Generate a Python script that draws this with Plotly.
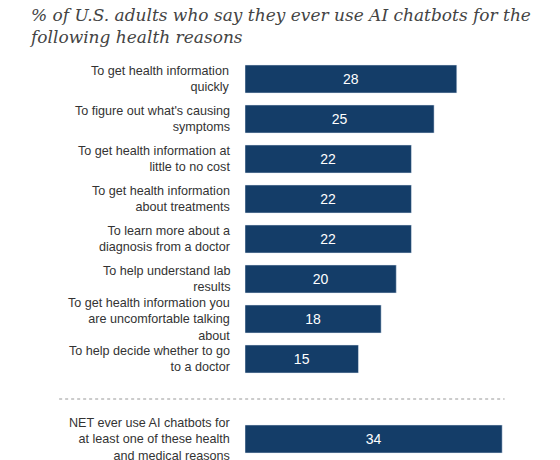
import plotly.graph_objects as go

labels = [
    "To get health information<br>quickly",
    "To figure out what's causing<br>symptoms",
    "To get health information at<br>little to no cost",
    "To get health information<br>about treatments",
    "To learn more about a<br>diagnosis from a doctor",
    "To help understand lab<br>results",
    "To get health information you<br>are uncomfortable talking<br>about",
    "To help decide whether to go<br>to a doctor",
    "NET ever use AI chatbots for<br>at least one of these health<br>and medical reasons",
]
values = [28, 25, 22, 22, 22, 20, 18, 15, 34]
positions = [0, 1, 2, 3, 4, 5, 6, 7, 9]

fig = go.Figure()
fig.add_trace(go.Bar(
    x=values, y=positions, orientation="h", width=0.7,
    marker_color="#143d68",
    text=[str(v) for v in values], textposition="inside", insidetextanchor="middle",
    textfont=dict(color="white", size=14, family="Liberation Sans"),
    hoverinfo="skip",
))

for lab, p in zip(labels, positions):
    fig.add_annotation(text=lab, xref="paper", yref="y", x=-0.044, y=p,
                       xanchor="right", yanchor="middle", align="right",
                       showarrow=False,
                       font=dict(family="Liberation Sans", size=12.6, color="#333333"))

fig.add_annotation(
    text="<i>% of U.S. adults who say they ever use AI chatbots for the<br>following health reasons</i>",
    xref="paper", yref="paper", x=-0.74, y=1.0, yshift=56,
    xanchor="left", yanchor="top", align="left", showarrow=False,
    font=dict(family="DejaVu Serif", size=17, color="#444444"))

fig.add_shape(type="line", xref="paper", yref="y",
              x0=-0.63, x1=0.88, y0=8, y1=8,
              line=dict(color="#999999", width=1.2, dash="dot"))

fig.update_layout(
    width=560, height=460,
    margin=dict(l=237, r=28, t=51, b=9, autoexpand=False),
    plot_bgcolor="white", paper_bgcolor="white",
    showlegend=False,
)
fig.update_xaxes(range=[0, 39], visible=False)
fig.update_yaxes(range=[9.5, -0.5], visible=False)

fig.write_html("out.html")
